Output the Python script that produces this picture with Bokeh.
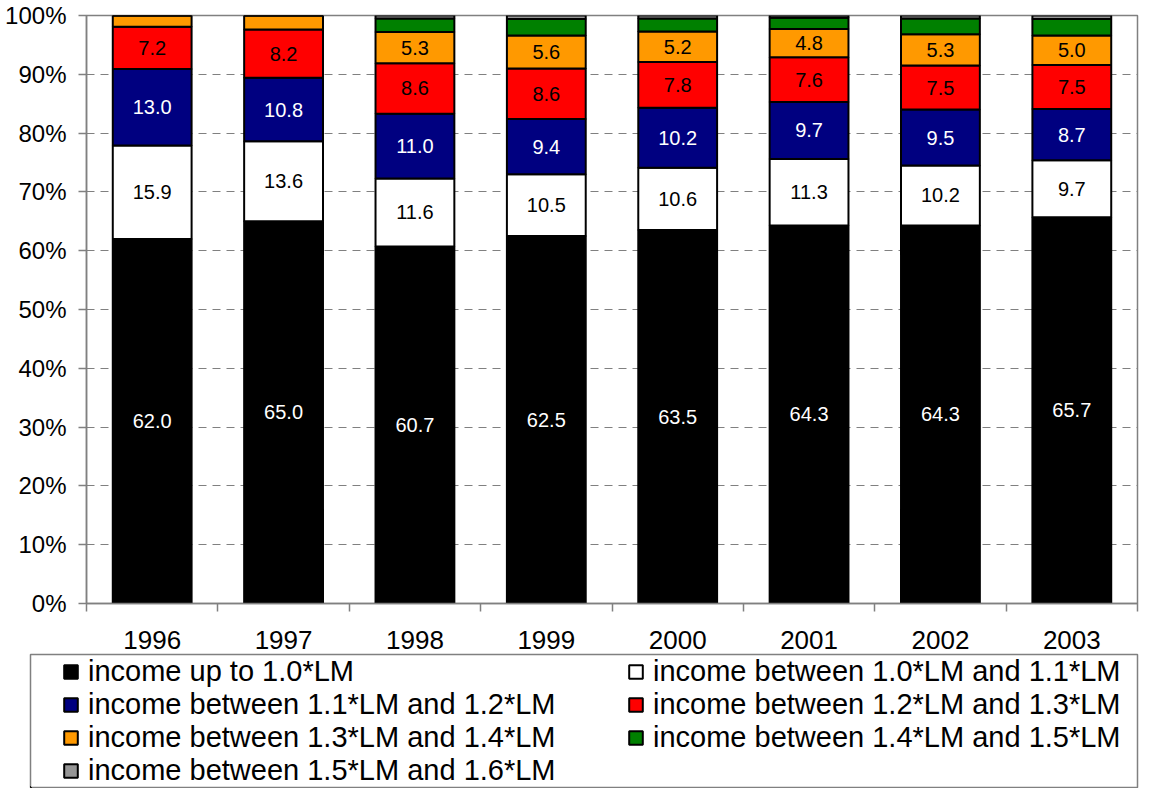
from bokeh.plotting import figure
from bokeh.layouts import column
from bokeh.models import (ColumnDataSource, Range1d, FixedTicker, PrintfTickFormatter,
                          Legend, LegendItem)
from bokeh.core.properties import value
from bokeh.embed import file_html
from bokeh.resources import INLINE

FONT = "Liberation Sans"

years = ["1996", "1997", "1998", "1999", "2000", "2001", "2002", "2003"]
series_names = [
    "income up to 1.0*LM",
    "income between 1.0*LM and 1.1*LM",
    "income between 1.1*LM and 1.2*LM",
    "income between 1.2*LM and 1.3*LM",
    "income between 1.3*LM and 1.4*LM",
    "income between 1.4*LM and 1.5*LM",
    "income between 1.5*LM and 1.6*LM",
]
up_to_1_0 = [62.0, 65.0, 60.7, 62.5, 63.5, 64.3, 64.3, 65.7]
b_1_0_1_1 = [15.9, 13.6, 11.6, 10.5, 10.6, 11.3, 10.2, 9.7]
b_1_1_1_2 = [13.0, 10.8, 11.0, 9.4, 10.2, 9.7, 9.5, 8.7]
b_1_2_1_3 = [7.2, 8.2, 8.6, 8.6, 7.8, 7.6, 7.5, 7.5]
b_1_3_1_4 = [1.9, 2.4, 5.3, 5.6, 5.2, 4.8, 5.3, 5.0]
b_1_4_1_5 = [0.0, 0.0, 2.3, 2.8, 2.2, 1.9, 2.7, 2.8]
b_1_5_1_6 = [0.0, 0.0, 0.5, 0.6, 0.5, 0.4, 0.5, 0.6]

series = [up_to_1_0, b_1_0_1_1, b_1_1_1_2, b_1_2_1_3, b_1_3_1_4, b_1_4_1_5, b_1_5_1_6]
fill_colors = ["#000000", "#FFFFFF", "#000080", "#FF0000", "#FF9900", "#008000", "#969696"]
text_colors = ["#FFFFFF", "#000000", "#FFFFFF", "#000000", "#000000", "#000000", "#000000"]
keys = ["s%d" % k for k in range(len(series))]

n = len(years)
W = 1139
H_MAIN = 668
FRAME_BOTTOM = 603
H_LEG = 135
LEG_OVERLAP = 15

p = figure(width=W, height=H_MAIN, output_backend="svg", toolbar_location=None,
           x_range=Range1d(0, n), y_range=Range1d(0, 100),
           min_border_left=86, min_border_right=2, min_border_top=15,
           min_border_bottom=H_MAIN - FRAME_BOTTOM)
p.background_fill_color = "white"
p.border_fill_color = "white"
p.outline_line_color = "#808080"
p.outline_line_width = 1.5

p.xgrid.visible = False
p.ygrid.ticker = FixedTicker(ticks=list(range(0, 101, 10)))
p.ygrid.grid_line_color = "#808080"
p.ygrid.grid_line_dash = "8 6"
p.ygrid.grid_line_width = 1.2

data = dict(x=[i + 0.5 for i in range(n)])
for k, s in zip(keys, series):
    data[k] = s
src = ColumnDataSource(data)

renderers = p.vbar_stack(keys, x="x", width=0.6, fill_color=fill_colors,
                         line_color="black", line_width=2, source=src)

# value labels
lx, ly, lt, lc = [], [], [], []
for i in range(n):
    base = 0.0
    for k, s in enumerate(series):
        v = s[i]
        if v >= 4:
            lx.append(i + 0.5)
            ly.append(base + v / 2)
            lt.append("%.1f" % v)
            lc.append(text_colors[k])
        base += v
lsrc = ColumnDataSource(dict(x=lx, y=ly, text=lt, color=lc))
p.text(x="x", y="y", text="text", text_color="color", source=lsrc,
       text_align="center", text_baseline="middle",
       text_font=value(FONT), text_font_size="20px")

# y axis
yax = p.yaxis[0]
yax.ticker = FixedTicker(ticks=list(range(0, 101, 10)))
yax.formatter = PrintfTickFormatter(format="%d%%")
yax.major_label_text_font = FONT
yax.major_label_text_font_size = "24px"
yax.major_label_text_color = "black"
yax.axis_line_color = "#808080"
yax.axis_line_width = 1.5
yax.major_tick_line_color = "#808080"
yax.major_tick_line_width = 1.5
yax.major_tick_out = 8
yax.major_tick_in = 0
yax.minor_tick_line_color = None
yax.major_label_standoff = 12

# x axis
xax = p.xaxis[0]
xax.ticker = FixedTicker(ticks=[i + 0.5 for i in range(n)], minor_ticks=list(range(n + 1)))
xax.major_label_overrides = {i + 0.5: years[i] for i in range(n)}
xax.major_label_text_font = FONT
xax.major_label_text_font_size = "26px"
xax.major_label_text_color = "black"
xax.axis_line_color = "#808080"
xax.axis_line_width = 1.5
xax.major_tick_out = 0
xax.major_tick_in = 0
xax.major_tick_line_color = None
xax.minor_tick_out = 8
xax.minor_tick_in = 0
xax.minor_tick_line_color = "#808080"
xax.minor_tick_line_width = 1.5
xax.major_label_standoff = 19

# legend panel (its frame is the legend box)
lf = figure(width=W, height=H_LEG, output_backend="svg", toolbar_location=None,
            x_range=Range1d(0, 1), y_range=Range1d(0, 1),
            x_axis_location=None, y_axis_location=None,
            min_border_left=30, min_border_right=2, min_border_top=1, min_border_bottom=1)
lf.margin = (-LEG_OVERLAP, 0, 0, 0)
lf.grid.visible = False
lf.background_fill_color = "white"
lf.border_fill_color = "white"
lf.outline_line_color = "#808080"
lf.outline_line_width = 1.5

# stand-ins outside the visible range that give the legend its swatches
leg_renderers = [lf.vbar(x=[-5], top=[-5], width=0.5, fill_color=c, line_color="black", line_width=2)
                 for c in fill_colors]

common = dict(orientation="vertical", padding=0, spacing=0, margin=0,
              border_line_color=None, background_fill_color=None,
              label_text_font=FONT, label_text_font_size="29px", label_text_color="black",
              glyph_width=17, glyph_height=17, label_standoff=9, label_height=32)
legA = Legend(items=[LegendItem(label=series_names[k], renderers=[leg_renderers[k]]) for k in [0, 2, 4, 6]],
              location=(32, 0), **common)
legB = Legend(items=[LegendItem(label=series_names[k], renderers=[leg_renderers[k]]) for k in [1, 3, 5]],
              location=(597, 33), **common)
lf.add_layout(legA)
lf.add_layout(legB)

layout = column(p, column(lf), spacing=0)
open("out.html", "w").write(file_html(layout, INLINE))
